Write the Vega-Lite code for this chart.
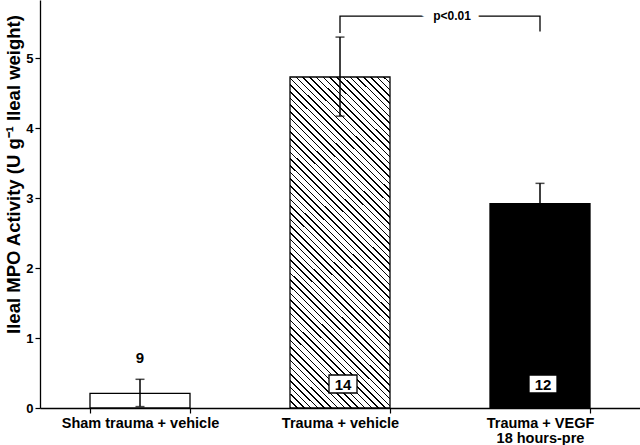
{
  "$schema": "https://vega.github.io/schema/vega-lite/v6.json",
  "autosize": "none",
  "width": 600,
  "height": 408,
  "padding": {"left": 40, "top": 0, "right": 0, "bottom": 37},
  "background": "white",
  "config": {
    "view": {"stroke": null},
    "font": "Liberation Sans"
  },
  "datasets": {
    "bars": [
      {"group": "Sham trauma + vehicle", "mean": 0.21, "lo": 0.02, "hi": 0.41, "n": "9"},
      {"group": "Trauma + vehicle", "mean": 4.73, "lo": 4.17, "hi": 5.3, "n": "14"},
      {"group": "Trauma + VEGF|18 hours-pre", "mean": 2.92, "lo": 2.62, "hi": 3.21, "n": "12"}
    ],
    "bracket": [
      {"group": "Trauma + vehicle", "y": 5.36, "k": 1},
      {"group": "Trauma + vehicle", "y": 5.6, "k": 2},
      {"group": "Trauma + VEGF|18 hours-pre", "y": 5.6, "k": 3},
      {"group": "Trauma + VEGF|18 hours-pre", "y": 5.38, "k": 4}
    ]
  },
  "data": {"name": "bars"},
  "encoding": {
    "x": {
      "field": "group", "type": "nominal",
      "scale": {"domain": ["Sham trauma + vehicle", "Trauma + vehicle", "Trauma + VEGF|18 hours-pre"], "paddingInner": 0.5, "paddingOuter": 0.25},
      "axis": {
        "title": null, "labelAngle": 0, "tickBand": "extent",
        "labelExpr": "split(datum.label, '|')",
        "labelFont": "Liberation Sans", "labelFontWeight": "bold", "labelFontSize": 14.5, "labelColor": "black",
        "labelLineHeight": 15.5, "labelPadding": 3,
        "domainColor": "black", "domainWidth": 1.3, "tickColor": "black", "tickSize": 5, "tickWidth": 1.2
      }
    }
  },
  "layer": [
    {
      "mark": {"type": "bar", "stroke": "black", "strokeWidth": 1.3},
      "encoding": {
        "y": {
          "field": "mean", "type": "quantitative",
          "scale": {"domain": [0, 5.83], "nice": false},
          "axis": {
            "title": "Ileal MPO Activity (U g⁻¹ Ileal weight)",
            "titleFont": "Liberation Sans", "titleFontWeight": "bold", "titleFontSize": 18.5, "titleColor": "black",
            "titleX": -27, "titleY": 174, "titleAngle": -90, "titleAlign": "center", "titleBaseline": "middle",
            "values": [0, 1, 2, 3, 4, 5], "format": "d", "grid": false,
            "labelFont": "Liberation Sans", "labelFontWeight": "bold", "labelFontSize": 13, "labelColor": "black", "labelPadding": 2,
            "domainColor": "black", "domainWidth": 1.3, "tickColor": "black", "tickSize": 5, "tickWidth": 1.2
          }
        },
        "fill": {
          "condition": [
            {"test": "datum.group === 'Trauma + vehicle'", "value": {"gradient": "linear", "x1": 0, "y1": 1, "x2": 0.358, "y2": -0.192, "stops": [
{"offset":0,"color":"black"},{"offset":0.0036,"color":"black"},{"offset":0.0036,"color":"white"},{"offset":0.015625,"color":"white"},
{"offset":0.015625,"color":"black"},{"offset":0.019225,"color":"black"},{"offset":0.019225,"color":"white"},{"offset":0.03125,"color":"white"},
{"offset":0.03125,"color":"black"},{"offset":0.03485,"color":"black"},{"offset":0.03485,"color":"white"},{"offset":0.046875,"color":"white"},
{"offset":0.046875,"color":"black"},{"offset":0.050475,"color":"black"},{"offset":0.050475,"color":"white"},{"offset":0.0625,"color":"white"},
{"offset":0.0625,"color":"black"},{"offset":0.0661,"color":"black"},{"offset":0.0661,"color":"white"},{"offset":0.078125,"color":"white"},
{"offset":0.078125,"color":"black"},{"offset":0.081725,"color":"black"},{"offset":0.081725,"color":"white"},{"offset":0.09375,"color":"white"},
{"offset":0.09375,"color":"black"},{"offset":0.09735,"color":"black"},{"offset":0.09735,"color":"white"},{"offset":0.109375,"color":"white"},
{"offset":0.109375,"color":"black"},{"offset":0.112975,"color":"black"},{"offset":0.112975,"color":"white"},{"offset":0.125,"color":"white"},
{"offset":0.125,"color":"black"},{"offset":0.1286,"color":"black"},{"offset":0.1286,"color":"white"},{"offset":0.140625,"color":"white"},
{"offset":0.140625,"color":"black"},{"offset":0.144225,"color":"black"},{"offset":0.144225,"color":"white"},{"offset":0.15625,"color":"white"},
{"offset":0.15625,"color":"black"},{"offset":0.15985,"color":"black"},{"offset":0.15985,"color":"white"},{"offset":0.171875,"color":"white"},
{"offset":0.171875,"color":"black"},{"offset":0.175475,"color":"black"},{"offset":0.175475,"color":"white"},{"offset":0.1875,"color":"white"},
{"offset":0.1875,"color":"black"},{"offset":0.1911,"color":"black"},{"offset":0.1911,"color":"white"},{"offset":0.203125,"color":"white"},
{"offset":0.203125,"color":"black"},{"offset":0.206725,"color":"black"},{"offset":0.206725,"color":"white"},{"offset":0.21875,"color":"white"},
{"offset":0.21875,"color":"black"},{"offset":0.22235,"color":"black"},{"offset":0.22235,"color":"white"},{"offset":0.234375,"color":"white"},
{"offset":0.234375,"color":"black"},{"offset":0.237975,"color":"black"},{"offset":0.237975,"color":"white"},{"offset":0.25,"color":"white"},
{"offset":0.25,"color":"black"},{"offset":0.2536,"color":"black"},{"offset":0.2536,"color":"white"},{"offset":0.265625,"color":"white"},
{"offset":0.265625,"color":"black"},{"offset":0.269225,"color":"black"},{"offset":0.269225,"color":"white"},{"offset":0.28125,"color":"white"},
{"offset":0.28125,"color":"black"},{"offset":0.28485,"color":"black"},{"offset":0.28485,"color":"white"},{"offset":0.296875,"color":"white"},
{"offset":0.296875,"color":"black"},{"offset":0.300475,"color":"black"},{"offset":0.300475,"color":"white"},{"offset":0.3125,"color":"white"},
{"offset":0.3125,"color":"black"},{"offset":0.3161,"color":"black"},{"offset":0.3161,"color":"white"},{"offset":0.328125,"color":"white"},
{"offset":0.328125,"color":"black"},{"offset":0.331725,"color":"black"},{"offset":0.331725,"color":"white"},{"offset":0.34375,"color":"white"},
{"offset":0.34375,"color":"black"},{"offset":0.34735,"color":"black"},{"offset":0.34735,"color":"white"},{"offset":0.359375,"color":"white"},
{"offset":0.359375,"color":"black"},{"offset":0.362975,"color":"black"},{"offset":0.362975,"color":"white"},{"offset":0.375,"color":"white"},
{"offset":0.375,"color":"black"},{"offset":0.3786,"color":"black"},{"offset":0.3786,"color":"white"},{"offset":0.390625,"color":"white"},
{"offset":0.390625,"color":"black"},{"offset":0.394225,"color":"black"},{"offset":0.394225,"color":"white"},{"offset":0.40625,"color":"white"},
{"offset":0.40625,"color":"black"},{"offset":0.40985,"color":"black"},{"offset":0.40985,"color":"white"},{"offset":0.421875,"color":"white"},
{"offset":0.421875,"color":"black"},{"offset":0.425475,"color":"black"},{"offset":0.425475,"color":"white"},{"offset":0.4375,"color":"white"},
{"offset":0.4375,"color":"black"},{"offset":0.4411,"color":"black"},{"offset":0.4411,"color":"white"},{"offset":0.453125,"color":"white"},
{"offset":0.453125,"color":"black"},{"offset":0.456725,"color":"black"},{"offset":0.456725,"color":"white"},{"offset":0.46875,"color":"white"},
{"offset":0.46875,"color":"black"},{"offset":0.47235,"color":"black"},{"offset":0.47235,"color":"white"},{"offset":0.484375,"color":"white"},
{"offset":0.484375,"color":"black"},{"offset":0.487975,"color":"black"},{"offset":0.487975,"color":"white"},{"offset":0.5,"color":"white"},
{"offset":0.5,"color":"black"},{"offset":0.5036,"color":"black"},{"offset":0.5036,"color":"white"},{"offset":0.515625,"color":"white"},
{"offset":0.515625,"color":"black"},{"offset":0.519225,"color":"black"},{"offset":0.519225,"color":"white"},{"offset":0.53125,"color":"white"},
{"offset":0.53125,"color":"black"},{"offset":0.53485,"color":"black"},{"offset":0.53485,"color":"white"},{"offset":0.546875,"color":"white"},
{"offset":0.546875,"color":"black"},{"offset":0.550475,"color":"black"},{"offset":0.550475,"color":"white"},{"offset":0.5625,"color":"white"},
{"offset":0.5625,"color":"black"},{"offset":0.5661,"color":"black"},{"offset":0.5661,"color":"white"},{"offset":0.578125,"color":"white"},
{"offset":0.578125,"color":"black"},{"offset":0.581725,"color":"black"},{"offset":0.581725,"color":"white"},{"offset":0.59375,"color":"white"},
{"offset":0.59375,"color":"black"},{"offset":0.59735,"color":"black"},{"offset":0.59735,"color":"white"},{"offset":0.609375,"color":"white"},
{"offset":0.609375,"color":"black"},{"offset":0.612975,"color":"black"},{"offset":0.612975,"color":"white"},{"offset":0.625,"color":"white"},
{"offset":0.625,"color":"black"},{"offset":0.6286,"color":"black"},{"offset":0.6286,"color":"white"},{"offset":0.640625,"color":"white"},
{"offset":0.640625,"color":"black"},{"offset":0.644225,"color":"black"},{"offset":0.644225,"color":"white"},{"offset":0.65625,"color":"white"},
{"offset":0.65625,"color":"black"},{"offset":0.65985,"color":"black"},{"offset":0.65985,"color":"white"},{"offset":0.671875,"color":"white"},
{"offset":0.671875,"color":"black"},{"offset":0.675475,"color":"black"},{"offset":0.675475,"color":"white"},{"offset":0.6875,"color":"white"},
{"offset":0.6875,"color":"black"},{"offset":0.6911,"color":"black"},{"offset":0.6911,"color":"white"},{"offset":0.703125,"color":"white"},
{"offset":0.703125,"color":"black"},{"offset":0.706725,"color":"black"},{"offset":0.706725,"color":"white"},{"offset":0.71875,"color":"white"},
{"offset":0.71875,"color":"black"},{"offset":0.72235,"color":"black"},{"offset":0.72235,"color":"white"},{"offset":0.734375,"color":"white"},
{"offset":0.734375,"color":"black"},{"offset":0.737975,"color":"black"},{"offset":0.737975,"color":"white"},{"offset":0.75,"color":"white"},
{"offset":0.75,"color":"black"},{"offset":0.7536,"color":"black"},{"offset":0.7536,"color":"white"},{"offset":0.765625,"color":"white"},
{"offset":0.765625,"color":"black"},{"offset":0.769225,"color":"black"},{"offset":0.769225,"color":"white"},{"offset":0.78125,"color":"white"},
{"offset":0.78125,"color":"black"},{"offset":0.78485,"color":"black"},{"offset":0.78485,"color":"white"},{"offset":0.796875,"color":"white"},
{"offset":0.796875,"color":"black"},{"offset":0.800475,"color":"black"},{"offset":0.800475,"color":"white"},{"offset":0.8125,"color":"white"},
{"offset":0.8125,"color":"black"},{"offset":0.8161,"color":"black"},{"offset":0.8161,"color":"white"},{"offset":0.828125,"color":"white"},
{"offset":0.828125,"color":"black"},{"offset":0.831725,"color":"black"},{"offset":0.831725,"color":"white"},{"offset":0.84375,"color":"white"},
{"offset":0.84375,"color":"black"},{"offset":0.84735,"color":"black"},{"offset":0.84735,"color":"white"},{"offset":0.859375,"color":"white"},
{"offset":0.859375,"color":"black"},{"offset":0.862975,"color":"black"},{"offset":0.862975,"color":"white"},{"offset":0.875,"color":"white"},
{"offset":0.875,"color":"black"},{"offset":0.8786,"color":"black"},{"offset":0.8786,"color":"white"},{"offset":0.890625,"color":"white"},
{"offset":0.890625,"color":"black"},{"offset":0.894225,"color":"black"},{"offset":0.894225,"color":"white"},{"offset":0.90625,"color":"white"},
{"offset":0.90625,"color":"black"},{"offset":0.90985,"color":"black"},{"offset":0.90985,"color":"white"},{"offset":0.921875,"color":"white"},
{"offset":0.921875,"color":"black"},{"offset":0.925475,"color":"black"},{"offset":0.925475,"color":"white"},{"offset":0.9375,"color":"white"},
{"offset":0.9375,"color":"black"},{"offset":0.9411,"color":"black"},{"offset":0.9411,"color":"white"},{"offset":0.953125,"color":"white"},
{"offset":0.953125,"color":"black"},{"offset":0.956725,"color":"black"},{"offset":0.956725,"color":"white"},{"offset":0.96875,"color":"white"},
{"offset":0.96875,"color":"black"},{"offset":0.97235,"color":"black"},{"offset":0.97235,"color":"white"},{"offset":0.984375,"color":"white"},
{"offset":0.984375,"color":"black"},{"offset":0.987975,"color":"black"},{"offset":0.987975,"color":"white"},{"offset":1,"color":"white"}
            ]}},
            {"test": "datum.group === 'Trauma + VEGF|18 hours-pre'", "value": "black"}
          ],
          "value": "white"
        }
      }
    },
    {
      "mark": {"type": "rule", "color": "black", "strokeWidth": 1.5},
      "encoding": {
        "y": {"field": "lo", "type": "quantitative"},
        "y2": {"field": "hi"}
      }
    },
    {
      "mark": {"type": "tick", "color": "black", "size": 9, "thickness": 1.5},
      "encoding": {"y": {"field": "hi", "type": "quantitative"}}
    },
    {
      "mark": {"type": "tick", "color": "black", "size": 9, "thickness": 1.5},
      "encoding": {"y": {"field": "lo", "type": "quantitative"}}
    },
    {
      "data": {"name": "bracket"},
      "mark": {"type": "line", "color": "black", "strokeWidth": 1.3, "interpolate": "linear"},
      "encoding": {
        "y": {"field": "y", "type": "quantitative"},
        "order": {"field": "k", "type": "quantitative"}
      }
    },
    {
      "data": {"values": [{"label": "p<0.01"}]},
      "mark": {"type": "text", "font": "Liberation Sans", "fontWeight": "bold", "fontSize": 12, "color": "white", "stroke": "white", "strokeWidth": 16, "dx": 112, "baseline": "middle"},
      "encoding": {
        "x": {"datum": "Trauma + vehicle"},
        "y": {"datum": 5.6},
        "text": {"field": "label"}
      }
    },
    {
      "data": {"values": [{"label": "p<0.01"}]},
      "mark": {"type": "text", "font": "Liberation Sans", "fontWeight": "bold", "fontSize": 12, "color": "black", "dx": 112, "baseline": "middle"},
      "encoding": {
        "x": {"datum": "Trauma + vehicle"},
        "y": {"datum": 5.6},
        "text": {"field": "label"}
      }
    },
    {
      "transform": [{"filter": "datum.group !== 'Sham trauma + vehicle'"}],
      "mark": {"type": "point", "shape": "M-1,-0.643H1V0.643H-1Z", "size": 784, "filled": true, "fill": "white", "stroke": "black", "strokeWidth": 1.3, "opacity": 1, "xOffset": 3},
      "encoding": {"y": {"datum": 0.343}}
    },
    {
      "transform": [{"filter": "datum.group !== 'Sham trauma + vehicle'"}],
      "mark": {"type": "text", "font": "Liberation Sans", "fontWeight": "bold", "fontSize": 15, "color": "black", "baseline": "middle", "dx": 3, "dy": 1},
      "encoding": {"y": {"datum": 0.343}, "text": {"field": "n"}}
    },
    {
      "transform": [{"filter": "datum.group === 'Sham trauma + vehicle'"}],
      "mark": {"type": "text", "font": "Liberation Sans", "fontWeight": "bold", "fontSize": 15, "color": "black", "baseline": "alphabetic"},
      "encoding": {"y": {"datum": 0.64}, "text": {"field": "n"}}
    }
  ]
}
